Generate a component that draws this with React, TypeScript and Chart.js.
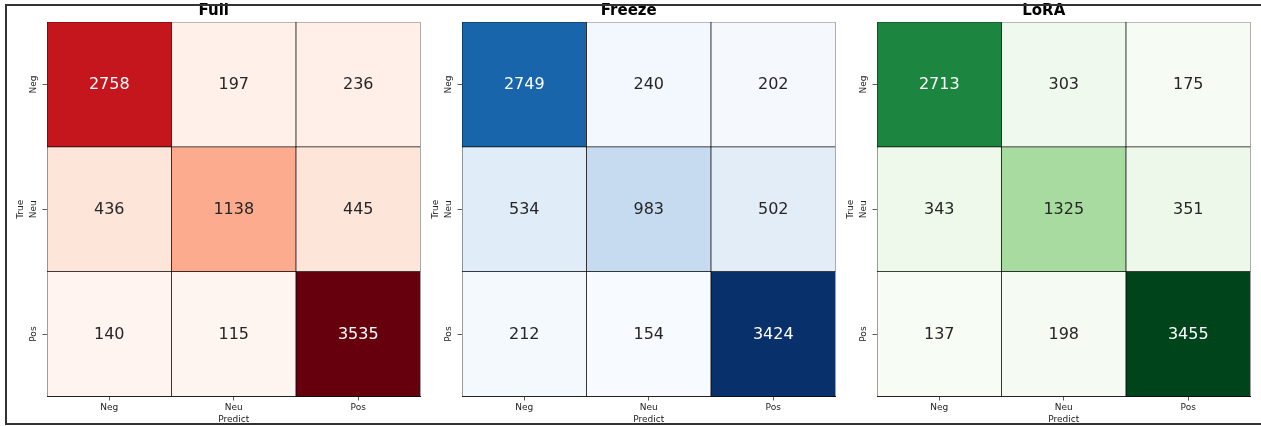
import React, { useEffect, useRef } from "react";
import { Chart, registerables } from "chart.js";

Chart.register(...registerables);

// ---------- data ----------
const categories = ["Neg", "Neu", "Pos"];
const panelTitles = ["Full", "Freeze", "LoRA"];
const fullValues = [
  [2758, 197, 236],
  [436, 1138, 445],
  [140, 115, 3535],
];
const freezeValues = [
  [2749, 240, 202],
  [534, 983, 502],
  [212, 154, 3424],
];
const loraValues = [
  [2713, 303, 175],
  [343, 1325, 351],
  [137, 198, 3455],
];
const xAxisTitle = "Predict";
const yAxisTitle = "True";

// ---------- colormaps (matplotlib / ColorBrewer) ----------
const REDS = ["#fff5f0", "#fee0d2", "#fcbba1", "#fc9272", "#fb6a4a", "#ef3b2c", "#cb181d", "#a50f15", "#67000d"];
const BLUES = ["#f7fbff", "#deebf7", "#c6dbef", "#9ecae1", "#6baed6", "#4292c6", "#2171b5", "#08519c", "#08306b"];
const GREENS = ["#f7fcf5", "#e5f5e0", "#c7e9c0", "#a1d99b", "#74c476", "#41ab5d", "#238b45", "#006d2c", "#00441b"];

function hexToRgb(h: string): number[] {
  return [parseInt(h.slice(1, 3), 16), parseInt(h.slice(3, 5), 16), parseInt(h.slice(5, 7), 16)];
}

function cmapRgb(anchors: string[], t: number): number[] {
  let idx = Math.floor(t * 256);
  if (idx > 255) idx = 255;
  if (idx < 0) idx = 0;
  const tt = idx / 255;
  const n = anchors.length - 1;
  const pos = tt * n;
  const i = Math.min(Math.floor(pos), n - 1);
  const f = pos - i;
  const a = hexToRgb(anchors[i]);
  const b = hexToRgb(anchors[i + 1]);
  return [0, 1, 2].map((k) => a[k] + (b[k] - a[k]) * f);
}

function luminance(rgb: number[]): number {
  const c = rgb.map((v) => {
    const s = v / 255;
    return s <= 0.03928 ? s / 12.92 : Math.pow((s + 0.055) / 1.055, 2.4);
  });
  return 0.2126 * c[0] + 0.7152 * c[1] + 0.0722 * c[2];
}

const rgbStr = (c: number[]) => `rgb(${Math.round(c[0])},${Math.round(c[1])},${Math.round(c[2])})`;

// ---------- layout ----------
const Y_AXIS_W = 40;
const RIGHT_PAD = 4.5;
const CANVAS_W = 418;
const CANVAS_H = 426;
const panelAreaLefts = [47, 462, 877];
const FONT = '"DejaVu Sans", "Liberation Sans", sans-serif';

interface PanelProps {
  values: number[][];
  title: string;
  cmap: string[];
  areaLeft: number;
}

function Panel({ values, title, cmap, areaLeft }: PanelProps) {
  const ref = useRef<HTMLCanvasElement | null>(null);

  useEffect(() => {
    if (!ref.current) return;
    const flat = values.flat();
    const vmin = Math.min(...flat);
    const vmax = Math.max(...flat);
    const cellRgb = values.map((row) => row.map((v) => cmapRgb(cmap, (v - vmin) / (vmax - vmin))));

    const datasets = values.map((row, i) => ({
      label: categories[i],
      data: row.map(() => [i, i + 1] as [number, number]),
      backgroundColor: cellRgb[i].map(rgbStr),
      borderColor: "#000000",
      borderWidth: 0.7,
      borderSkipped: false as const,
      barPercentage: 1,
      categoryPercentage: 1,
      grouped: false,
    }));

    const annotate = {
      id: "annotate",
      afterDatasetsDraw(chart: any) {
        const ctx = chart.ctx;
        ctx.save();
        ctx.font = `16px ${FONT}`;
        ctx.textAlign = "center";
        ctx.textBaseline = "middle";
        values.forEach((row, i) => {
          const meta = chart.getDatasetMeta(i);
          meta.data.forEach((el: any, j: number) => {
            const p = el.getProps(["x", "y", "base"], true);
            const cy = (p.y + p.base) / 2;
            ctx.fillStyle = luminance(cellRgb[i][j]) > 0.408 ? "#262626" : "#ffffff";
            ctx.fillText(String(row[j]), p.x, cy + 0.5);
          });
        });
        ctx.restore();
      },
    };

    const chart = new Chart(ref.current, {
      type: "bar",
      data: { labels: categories, datasets: datasets as any },
      plugins: [annotate],
      options: {
        responsive: false,
        animation: false,
        devicePixelRatio: 1,
        layout: { padding: { left: 0, right: RIGHT_PAD, top: 0, bottom: 0 } },
        plugins: {
          legend: { display: false },
          tooltip: { enabled: false },
          title: {
            display: true,
            text: title,
            color: "#000",
            font: { family: FONT, size: 15, weight: "bold", lineHeight: 1.2 },
            padding: { top: 2, bottom: 2 },
          },
        },
        scales: {
          x: {
            type: "category",
            offset: true,
            grid: {
              display: true,
              offset: false,
              drawOnChartArea: false,
              drawTicks: true,
              tickLength: 4,
              tickColor: "#333",
              tickWidth: 0.8,
            },
            border: { display: true, color: "#111", width: 1 },
            ticks: {
              color: "#222",
              font: { family: FONT, size: 9 },
              padding: 2,
              maxRotation: 0,
              minRotation: 0,
              autoSkip: false,
            },
            title: {
              display: true,
              text: xAxisTitle,
              color: "#222",
              font: { family: FONT, size: 9 },
              padding: { top: 0, bottom: 1 },
            },
            afterFit(scale: any) {
              scale.height = 29.5;
            },
          },
          y: {
            type: "linear",
            min: 0,
            max: 3,
            reverse: true,
            afterBuildTicks(axis: any) {
              axis.ticks = [0.5, 1.5, 2.5].map((v) => ({ value: v }));
            },
            grid: {
              display: true,
              drawOnChartArea: false,
              drawTicks: true,
              tickLength: 4.5,
              tickColor: "#333",
              tickWidth: 0.8,
            },
            border: { display: false },
            ticks: {
              color: "#222",
              font: { family: FONT, size: 9 },
              padding: -0.5,
              minRotation: 90,
              maxRotation: 90,
              autoSkip: false,
              crossAlign: "center",
              callback: (_v: any, index: number) => categories[index],
            },
            title: {
              display: true,
              text: yAxisTitle,
              color: "#222",
              font: { family: FONT, size: 9 },
              padding: { top: 8.6, bottom: 0 },
            },
            afterFit(scale: any) {
              scale.width = Y_AXIS_W;
            },
          },
        },
      } as any,
    });
    return () => chart.destroy();
  }, [values, title, cmap]);

  return (
    <canvas
      ref={ref}
      width={CANVAS_W}
      height={CANVAS_H}
      style={{ position: "absolute", left: areaLeft - Y_AXIS_W, top: 0, width: CANVAS_W, height: CANVAS_H }}
    />
  );
}

const panelValues = [fullValues, freezeValues, loraValues];
const panelCmaps = [REDS, BLUES, GREENS];

export default function App() {
  return (
    <div
      style={{
        position: "absolute",
        left: 0,
        top: 0,
        width: 1261,
        height: 426,
        overflow: "hidden",
        background: "#fff",
      }}
    >
      {panelTitles.map((t, i) => (
        <Panel key={t} values={panelValues[i]} title={t} cmap={panelCmaps[i]} areaLeft={panelAreaLefts[i]} />
      ))}
      <div
        style={{
          position: "absolute",
          left: 5,
          top: 4,
          width: 1270,
          height: 421,
          boxSizing: "border-box",
          borderLeft: "2px solid #333",
          borderTop: "2px solid #333",
          borderBottom: "2px solid #333",
          pointerEvents: "none",
        }}
      />
    </div>
  );
}
